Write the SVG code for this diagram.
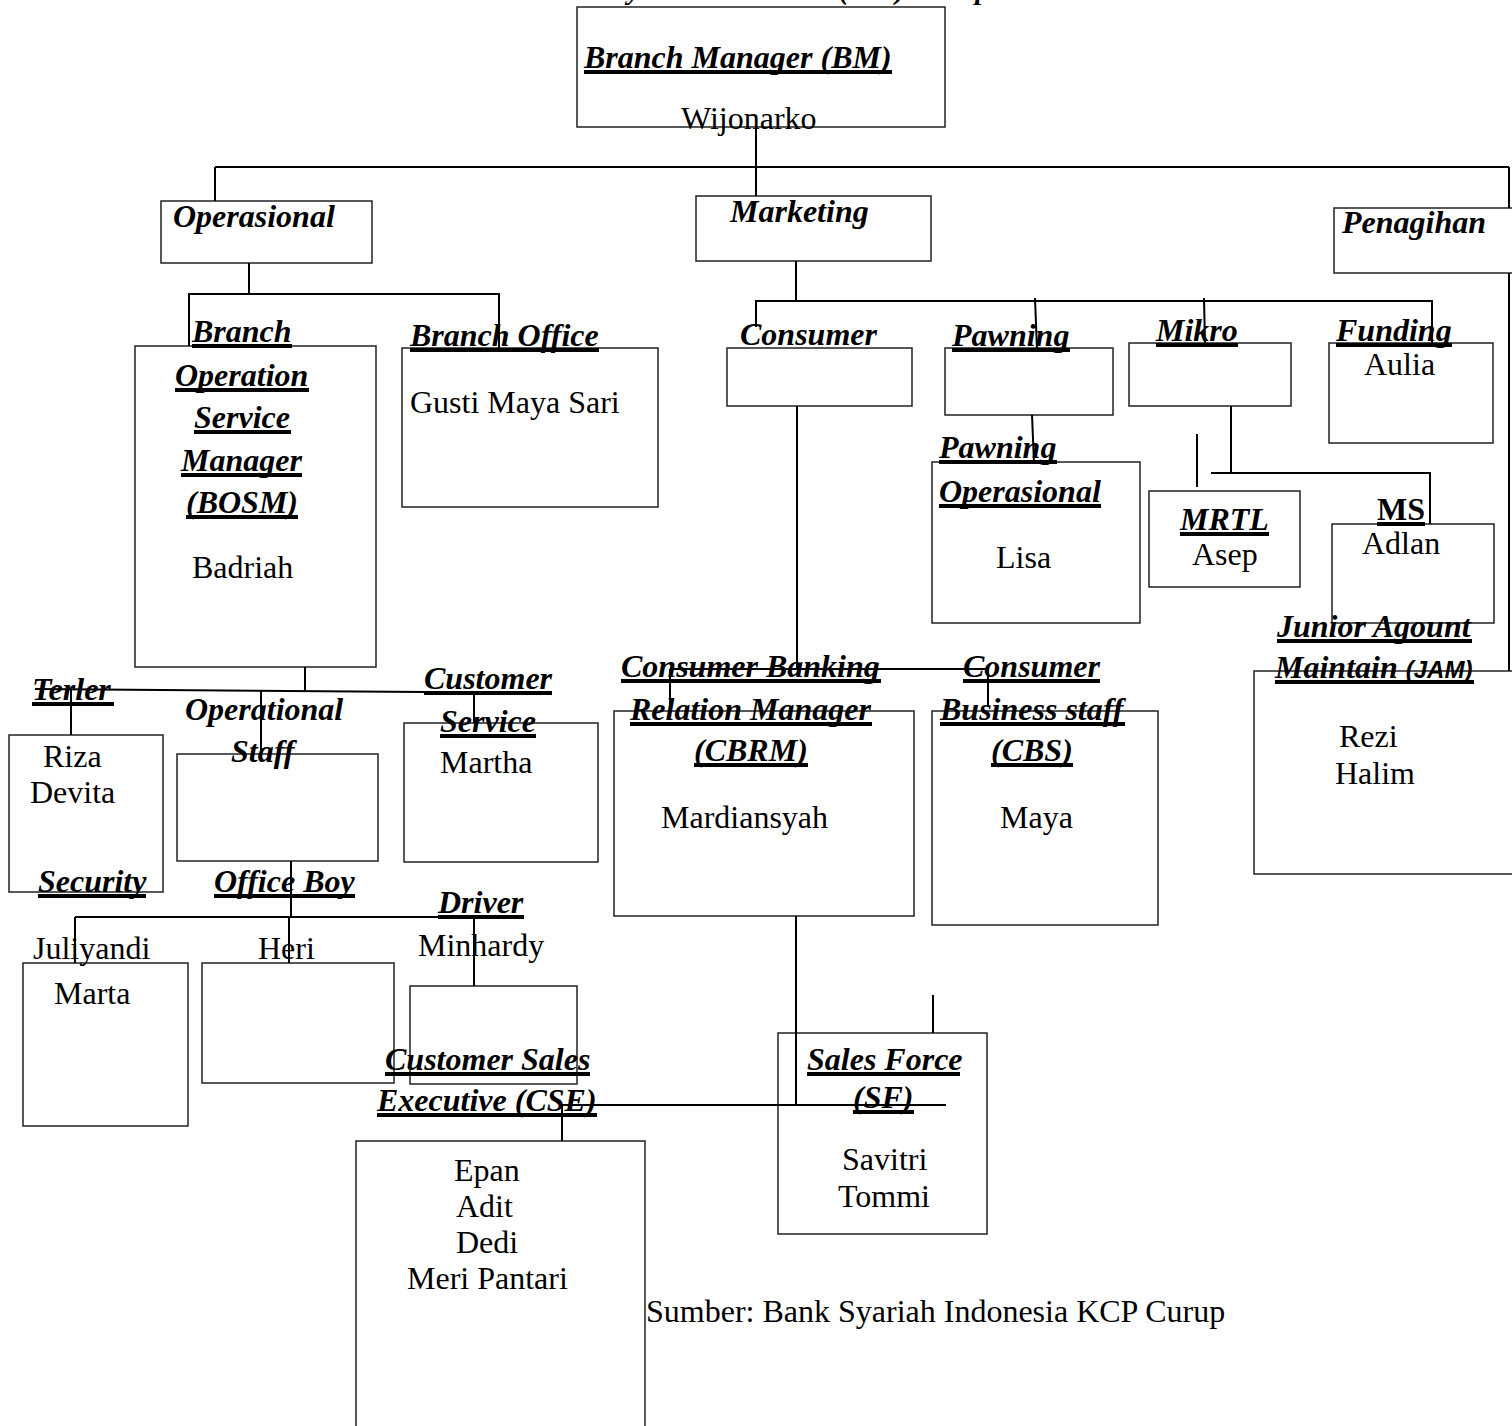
<svg xmlns="http://www.w3.org/2000/svg" width="1512" height="1426" viewBox="0 0 1512 1426">
<style>
  text { font-family: "Liberation Serif", "Times New Roman", serif; font-size: 32px; fill: #000; }
  .lb { font-weight: bold; font-style: italic; }
  .ms { font-weight: bold; }
  .ttl { font-weight: bold; font-style: italic; font-size: 29px; }
  .sans { font-family: "Liberation Sans", Arial, sans-serif; font-size: 24px; }
  .box { fill: none; stroke: #222; stroke-width: 1.5; }
  .ul { stroke: #000; stroke-width: 4; }
  #connectors line, #connectors polyline { stroke: #000; stroke-width: 2; fill: none; }
</style>
<rect x="0" y="0" width="1512" height="1426" fill="#fff"/>

<text class="ttl" x="540" y="-1">Bank Syariah Indonesia (BSI) Curup</text>

<g id="bm">
  <rect class="box" x="577" y="7" width="368" height="120"/>
  <text class="lb" x="584" y="68">Branch Manager (BM)</text>
  <line class="ul" x1="584" y1="72" x2="892" y2="72"/>
  <text x="681" y="129">Wijonarko</text>
</g>

<g id="operasional">
  <rect class="box" x="161" y="201" width="211" height="62"/>
  <text class="lb" x="173" y="227">Operasional</text>
</g>
<g id="marketing">
  <rect class="box" x="696" y="196" width="235" height="65"/>
  <text class="lb" x="730" y="222">Marketing</text>
</g>
<g id="penagihan">
  <rect class="box" x="1334" y="208" width="190" height="65"/>
  <text class="lb" x="1342" y="233">Penagihan</text>
</g>

<g id="bosm">
  <rect class="box" x="135" y="346" width="241" height="321"/>
  <text class="lb" x="192" y="342">Branch</text>
  <line class="ul" x1="192" y1="346" x2="292" y2="346"/>
  <text class="lb" x="175" y="386">Operation</text>
  <line class="ul" x1="175" y1="390" x2="309" y2="390"/>
  <text class="lb" x="194" y="428">Service</text>
  <line class="ul" x1="194" y1="432" x2="291" y2="432"/>
  <text class="lb" x="181" y="471">Manager</text>
  <line class="ul" x1="181" y1="475" x2="302" y2="475"/>
  <text class="lb" x="186" y="513">(BOSM)</text>
  <line class="ul" x1="186" y1="517" x2="298" y2="517"/>
  <text x="192" y="578">Badriah</text>
</g>

<g id="branch-office">
  <rect class="box" x="402" y="348" width="256" height="159"/>
  <text class="lb" x="410" y="346">Branch Office</text>
  <line class="ul" x1="410" y1="350" x2="599" y2="350"/>
  <text x="410" y="413">Gusti Maya Sari</text>
</g>

<g id="consumer">
  <rect class="box" x="727" y="348" width="185" height="58"/>
  <text class="lb" x="740" y="345">Consumer</text>
</g>
<g id="pawning">
  <rect class="box" x="945" y="348" width="168" height="67"/>
  <text class="lb" x="952" y="346">Pawning</text>
  <line class="ul" x1="952" y1="350" x2="1070" y2="350"/>
</g>
<g id="mikro">
  <rect class="box" x="1129" y="343" width="162" height="63"/>
  <text class="lb" x="1156" y="341">Mikro</text>
  <line class="ul" x1="1156" y1="345" x2="1238" y2="345"/>
</g>
<g id="funding">
  <rect class="box" x="1329" y="343" width="164" height="100"/>
  <text class="lb" x="1336" y="341">Funding</text>
  <line class="ul" x1="1336" y1="345" x2="1452" y2="345"/>
  <text x="1364" y="375">Aulia</text>
</g>

<g id="pawning-operasional">
  <rect class="box" x="932" y="462" width="208" height="161"/>
  <text class="lb" x="939" y="458">Pawning</text>
  <line class="ul" x1="939" y1="462" x2="1057" y2="462"/>
  <text class="lb" x="939" y="502">Operasional</text>
  <line class="ul" x1="939" y1="506" x2="1101" y2="506"/>
  <text x="996" y="568">Lisa</text>
</g>
<g id="mrtl">
  <rect class="box" x="1149" y="491" width="151" height="96"/>
  <text class="lb" x="1180" y="530">MRTL</text>
  <line class="ul" x1="1180" y1="534" x2="1269" y2="534"/>
  <text x="1192" y="565">Asep</text>
</g>
<g id="ms">
  <rect class="box" x="1332" y="524" width="162" height="99"/>
  <text class="ms" x="1377" y="520">MS</text>
  <line class="ul" x1="1377" y1="524" x2="1425" y2="524"/>
  <text x="1362" y="554">Adlan</text>
</g>
<g id="jam">
  <rect class="box" x="1254" y="671" width="270" height="203"/>
  <text class="lb" x="1277" y="637">Junior Agount</text>
  <line class="ul" x1="1277" y1="641" x2="1472" y2="641"/>
  <text class="lb" x="1275" y="678">Maintain <tspan class="sans">(JAM)</tspan></text>
  <line class="ul" x1="1275" y1="682" x2="1474" y2="682"/>
  <text x="1339" y="747">Rezi</text>
  <text x="1335" y="784">Halim</text>
</g>

<g id="terler">
  <rect class="box" x="9" y="735" width="154" height="157"/>
  <text class="lb" x="32" y="700">Terler</text>
  <line class="ul" x1="32" y1="704" x2="114" y2="704"/>
  <text x="43" y="767">Riza</text>
  <text x="30" y="803">Devita</text>
</g>
<g id="operational-staff">
  <rect class="box" x="177" y="754" width="201" height="107"/>
  <text class="lb" x="185" y="720">Operational</text>
  <text class="lb" x="231" y="762">Staff</text>
</g>
<g id="customer-service">
  <rect class="box" x="404" y="723" width="194" height="139"/>
  <text class="lb" x="424" y="689">Customer</text>
  <line class="ul" x1="424" y1="693" x2="552" y2="693"/>
  <text class="lb" x="440" y="732">Service</text>
  <line class="ul" x1="440" y1="736" x2="536" y2="736"/>
  <text x="440" y="773">Martha</text>
</g>

<g id="security">
  <rect class="box" x="23" y="963" width="165" height="163"/>
  <text class="lb" x="38" y="892">Security</text>
  <line class="ul" x1="38" y1="896" x2="146" y2="896"/>
  <text x="33" y="959">Juliyandi</text>
  <text x="54" y="1004">Marta</text>
</g>
<g id="office-boy">
  <rect class="box" x="202" y="963" width="192" height="120"/>
  <text class="lb" x="214" y="892">Office Boy</text>
  <line class="ul" x1="214" y1="896" x2="355" y2="896"/>
  <text x="258" y="959">Heri</text>
</g>
<g id="driver">
  <rect class="box" x="410" y="986" width="167" height="98"/>
  <text class="lb" x="438" y="913">Driver</text>
  <line class="ul" x1="438" y1="917" x2="524" y2="917"/>
  <text x="418" y="956">Minhardy</text>
</g>

<g id="cbrm">
  <rect class="box" x="614" y="711" width="300" height="205"/>
  <text class="lb" x="621" y="677">Consumer Banking</text>
  <line class="ul" x1="621" y1="681" x2="881" y2="681"/>
  <text class="lb" x="630" y="720">Relation Manager</text>
  <line class="ul" x1="630" y1="724" x2="872" y2="724"/>
  <text class="lb" x="694" y="761">(CBRM)</text>
  <line class="ul" x1="694" y1="765" x2="808" y2="765"/>
  <text x="661" y="828">Mardiansyah</text>
</g>
<g id="cbs">
  <rect class="box" x="932" y="711" width="226" height="214"/>
  <text class="lb" x="963" y="677">Consumer</text>
  <line class="ul" x1="963" y1="681" x2="1100" y2="681"/>
  <text class="lb" x="940" y="720">Business staff</text>
  <line class="ul" x1="940" y1="724" x2="1125" y2="724"/>
  <text class="lb" x="991" y="761">(CBS)</text>
  <line class="ul" x1="991" y1="765" x2="1073" y2="765"/>
  <text x="1000" y="828">Maya</text>
</g>

<g id="cse">
  <rect class="box" x="356" y="1141" width="289" height="295"/>
  <text class="lb" x="385" y="1070">Customer Sales</text>
  <line class="ul" x1="385" y1="1074" x2="590" y2="1074"/>
  <text class="lb" x="377" y="1111">Executive (CSE)</text>
  <line class="ul" x1="377" y1="1115" x2="597" y2="1115"/>
  <text x="454" y="1181">Epan</text>
  <text x="456" y="1217">Adit</text>
  <text x="456" y="1253">Dedi</text>
  <text x="407" y="1289">Meri Pantari</text>
</g>
<g id="sf">
  <rect class="box" x="778" y="1033" width="209" height="201"/>
  <text class="lb" x="807" y="1070">Sales Force</text>
  <line class="ul" x1="807" y1="1074" x2="960" y2="1074"/>
  <text class="lb" x="853" y="1108">(SF)</text>
  <line class="ul" x1="853" y1="1112" x2="914" y2="1112"/>
  <text x="842" y="1170">Savitri</text>
  <text x="838" y="1207">Tommi</text>
</g>

<g id="connectors">
  <line x1="756" y1="127" x2="756" y2="167"/>
  <line x1="215" y1="167" x2="1509" y2="167"/>
  <line x1="215" y1="167" x2="215" y2="201"/>
  <line x1="756" y1="167" x2="756" y2="196"/>
  <line x1="1509" y1="167" x2="1509" y2="208"/>
  <line x1="1509" y1="273" x2="1509" y2="671"/>
  <line x1="249" y1="263" x2="249" y2="294"/>
  <polyline points="189,346 189,294 499,294 499,348"/>
  <line x1="796" y1="261" x2="796" y2="301"/>
  <polyline points="756,327 756,301 1432,301 1432,343"/>
  <line x1="1035" y1="298" x2="1037" y2="350"/>
  <line x1="1204" y1="298" x2="1205" y2="343"/>
  <line x1="797" y1="406" x2="797" y2="669"/>
  <line x1="670" y1="669" x2="988" y2="669"/>
  <line x1="670" y1="669" x2="670" y2="711"/>
  <line x1="988" y1="669" x2="988" y2="707"/>
  <line x1="1032" y1="415" x2="1034" y2="463"/>
  <line x1="1231" y1="406" x2="1231" y2="473"/>
  <polyline points="1211,473 1430,473 1430,524"/>
  <line x1="1197" y1="434" x2="1197" y2="487"/>
  <line x1="305" y1="667" x2="305" y2="691"/>
  <line x1="35" y1="689" x2="425" y2="692"/>
  <line x1="71" y1="689" x2="71" y2="735"/>
  <line x1="261" y1="690" x2="261" y2="754"/>
  <line x1="474" y1="692" x2="474" y2="723"/>
  <line x1="291" y1="861" x2="291" y2="917"/>
  <line x1="75" y1="917" x2="474" y2="917"/>
  <line x1="75" y1="917" x2="75" y2="963"/>
  <line x1="289" y1="917" x2="289" y2="963"/>
  <line x1="474" y1="917" x2="474" y2="986"/>
  <line x1="796" y1="916" x2="796" y2="1105"/>
  <line x1="562" y1="1105" x2="946" y2="1105"/>
  <line x1="562" y1="1105" x2="562" y2="1141"/>
  <line x1="933" y1="995" x2="933" y2="1033"/>
</g>

<text x="646" y="1322">Sumber: Bank Syariah Indonesia KCP Curup</text>
</svg>
